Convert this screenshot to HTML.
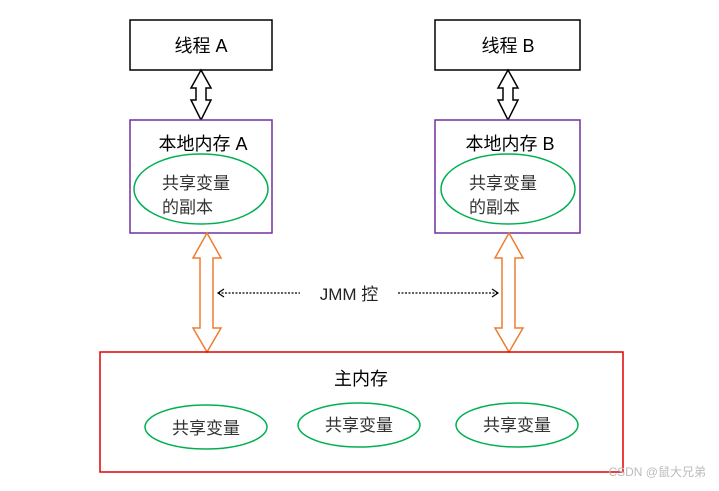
<!DOCTYPE html>
<html><head><meta charset="utf-8"><style>
body{margin:0;background:#fff}
text{font-family:"Liberation Sans","Noto Sans CJK SC",sans-serif}
</style></head><body>
<svg width="719" height="486" viewBox="0 0 719 486" xmlns="http://www.w3.org/2000/svg">
<rect x="130" y="20" width="142" height="50" fill="#fff" stroke="#000" stroke-width="1.5"/>
<rect x="435" y="20" width="145" height="50" fill="#fff" stroke="#000" stroke-width="1.5"/>
<text x="201" y="52" font-size="18" text-anchor="middle">线程 A</text>
<text x="508" y="52" font-size="18" text-anchor="middle">线程 B</text>
<polygon points="201,70 211,88 206,88 206,100 211,100 201,120 191,100 196,100 196,88 191,88" fill="#fff" stroke="#000" stroke-width="1.5"/>
<polygon points="508,70 518,88 513,88 513,100 518,100 508,120 498,100 503,100 503,88 498,88" fill="#fff" stroke="#000" stroke-width="1.5"/>
<rect x="130" y="120" width="142" height="113" fill="#fff" stroke="#7030a0" stroke-width="1.5"/>
<rect x="435" y="120" width="145" height="113" fill="#fff" stroke="#7030a0" stroke-width="1.5"/>
<text x="203" y="150" font-size="18" text-anchor="middle">本地内存 A</text>
<text x="510" y="150" font-size="18" text-anchor="middle">本地内存 B</text>
<ellipse cx="201" cy="189" rx="67" ry="35" fill="none" stroke="#00b050" stroke-width="1.5"/>
<ellipse cx="508" cy="189" rx="67" ry="35" fill="none" stroke="#00b050" stroke-width="1.5"/>
<text x="162" y="189" font-size="17" fill="#333">共享变量</text>
<text x="162" y="213" font-size="17" fill="#333">的副本</text>
<text x="469" y="189" font-size="17" fill="#333">共享变量</text>
<text x="469" y="213" font-size="17" fill="#333">的副本</text>
<polygon points="207,233 221,258 213,258 213,328 221,328 207,352 193,328 200,328 200,258 193,258" fill="#fff" stroke="#ed7d31" stroke-width="1.5"/>
<polygon points="509,233 523,258 515,258 515,328 523,328 509,352 495,328 502,328 502,258 495,258" fill="#fff" stroke="#ed7d31" stroke-width="1.5"/>
<line x1="218" y1="293" x2="300" y2="293" stroke="#000" stroke-width="1.2" stroke-dasharray="2,1.5"/>
<line x1="398" y1="293" x2="498" y2="293" stroke="#000" stroke-width="1.2" stroke-dasharray="2,1.5"/>
<polyline points="224,289 218,293 224,297" fill="none" stroke="#000" stroke-width="1.2"/>
<polyline points="492,289 498,293 492,297" fill="none" stroke="#000" stroke-width="1.2"/>
<text x="349" y="300" font-size="17" text-anchor="middle" fill="#222">JMM 控</text>
<rect x="100" y="352" width="523" height="120" fill="none" stroke="#e00000" stroke-width="1.5"/>
<text x="361" y="385" font-size="18" text-anchor="middle">主内存</text>
<ellipse cx="206" cy="427" rx="61" ry="22" fill="none" stroke="#00b050" stroke-width="1.5"/>
<ellipse cx="359" cy="425" rx="61" ry="22" fill="none" stroke="#00b050" stroke-width="1.5"/>
<ellipse cx="517" cy="425" rx="61" ry="22" fill="none" stroke="#00b050" stroke-width="1.5"/>
<text x="206" y="434" font-size="17" text-anchor="middle" fill="#333">共享变量</text>
<text x="359" y="431" font-size="17" text-anchor="middle" fill="#333">共享变量</text>
<text x="517" y="431" font-size="17" text-anchor="middle" fill="#333">共享变量</text>
<text x="706" y="476" font-size="12" text-anchor="end" fill="#bbb">CSDN @鼠大兄弟</text>
</svg>
</body></html>
